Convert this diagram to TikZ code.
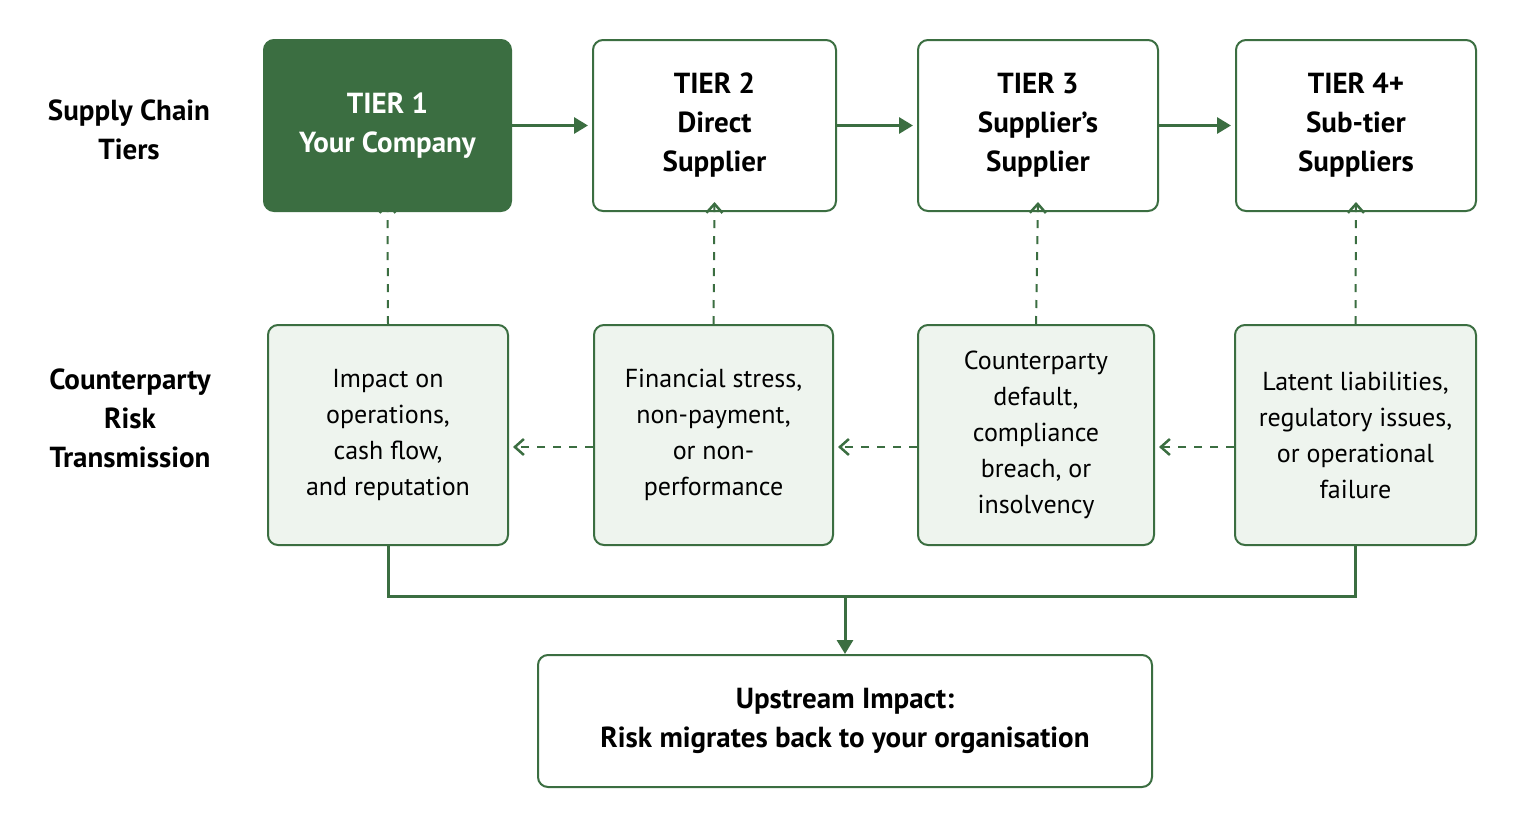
\documentclass[tikz,border=0pt]{standalone}
\usepackage{fontspec}
\setmainfont{PT Sans}
\usetikzlibrary{arrows.meta}
\definecolor{dg}{HTML}{3B6E41}
\definecolor{lg}{HTML}{EEF4EE}
\begin{document}
\begin{tikzpicture}[x=1pt,y=-1pt,
 box/.style={draw=dg,line width=2pt,rounded corners=10pt,align=center,inner sep=0pt},
 tierbox/.style={box,fill=white,font=\fontsize{29}{39}\selectfont\bfseries},
 riskbox/.style={box,fill=lg,font=\fontsize{26}{36}\selectfont},
 lab/.style={align=center,font=\fontsize{29}{39}\selectfont\bfseries},
 sarr/.style={draw=dg,line width=3pt,-{Triangle[length=14pt,width=16pt]}},
 darr/.style={draw=dg,line width=2pt,dash pattern=on 8pt off 8pt,-{Straight Barb[length=9pt,width=16pt,line width=2.5pt]}},
 conn/.style={draw=dg,line width=3pt}]
\useasboundingbox[fill=white] (0,0) rectangle (1516,828);
\node[lab] (l1) at (129,130) {Supply Chain\\Tiers};
\node[lab] (l2) at (130,418) {Counterparty\\Risk\\Transmission};
\node[tierbox,fill=dg,text=white,minimum width=247pt,minimum height=171pt] (t1) at (387.5,125.5) {TIER 1\\Your Company};
\node[tierbox,minimum width=243pt,minimum height=171pt] (t2) at (714.5,125.5) {TIER 2\\Direct\\Supplier};
\node[tierbox,minimum width=240pt,minimum height=171pt] (t3) at (1038,125.5) {TIER 3\\Supplier’s\\Supplier};
\node[tierbox,minimum width=240pt,minimum height=171pt] (t4) at (1356,125.5) {TIER 4+\\Sub-tier\\Suppliers};
\node[riskbox,minimum width=240pt,minimum height=220pt] (r1) at (388,435) {Impact on\\operations,\\cash flow,\\and reputation};
\node[riskbox,minimum width=239pt,minimum height=220pt] (r2) at (713.5,435) {Financial stress,\\non-payment,\\or non-\\performance};
\node[riskbox,minimum width=236pt,minimum height=220pt] (r3) at (1036,435) {Counterparty\\default,\\compliance\\breach, or\\insolvency};
\node[riskbox,minimum width=241pt,minimum height=220pt] (r4) at (1355.5,435) {Latent liabilities,\\regulatory issues,\\or operational\\failure};
\node[box,fill=white,minimum width=614pt,minimum height=132pt,font=\fontsize{29}{39}\selectfont\bfseries] (b) at (845,721) {Upstream Impact:\\Risk migrates back to your organisation};
\foreach \a/\b in {t1/t2,t2/t3,t3/t4} \draw[sarr] (\a.east) -- ([xshift=-4pt]\b.west);
\foreach \i in {1,2,3,4} \draw[darr] (r\i.north) -- ([yshift=10pt]t\i.south);
\foreach \a/\b in {r2/r1,r3/r2,r4/r3} \draw[darr] ([yshift=-12pt]\a.west) -- ([xshift=4pt,yshift=-12pt]\b.east);
\coordinate (m) at (845,596);
\draw[conn] (r1.south) |- (m) -| (r4.south);
\draw[sarr] (m) -- (b.north);
\end{tikzpicture}
\end{document}
